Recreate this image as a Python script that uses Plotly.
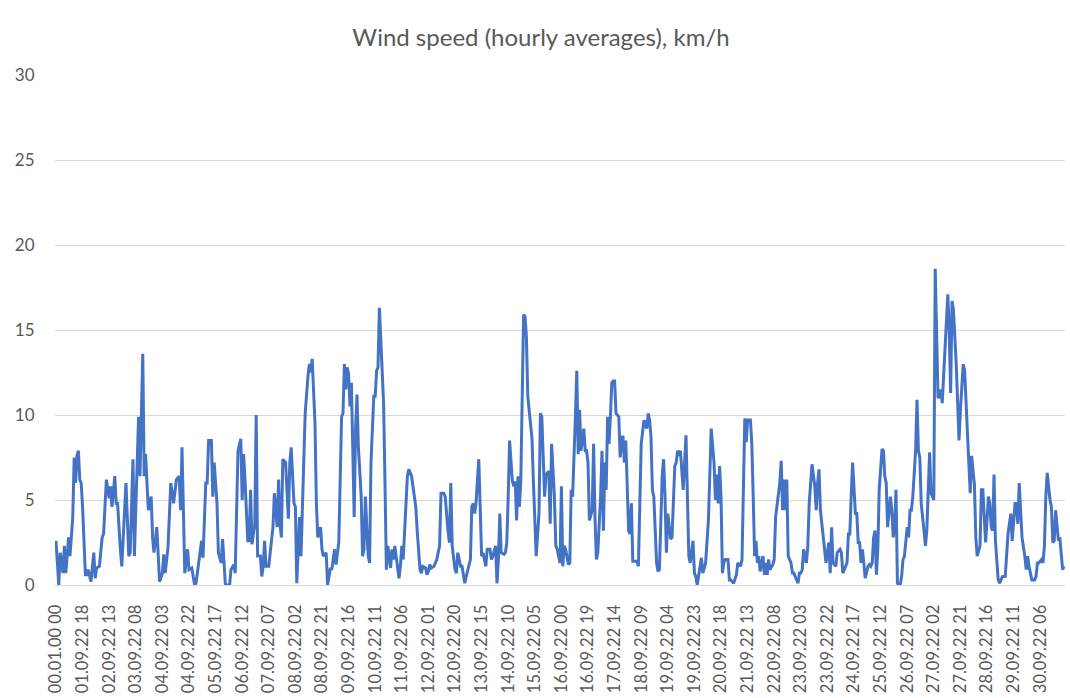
import plotly.graph_objects as go

# hour index (0 = first category) and hourly average wind speed, km/h
h1 = [0,2,3,5,6,7,8,9,10,11,12,13,14,15,16,17,18,19,21,22,23,25,27,28,29,31,33,34,36,38,39,40,42,43,44,46,47,50,52,53,55,56,59]
v1 = [2.6,0.0,1.9,0.7,2.3,0.7,1.7,2.8,1.7,3.0,4.0,7.5,6.0,7.6,7.9,6.2,6.0,4.6,0.6,0.6,0.9,0.2,1.9,0.4,1.0,1.1,2.8,3.0,6.2,5.1,5.8,4.6,6.4,4.8,4.8,2.1,1.1,6.0,1.7,1.9,7.4,1.7,9.9]
h2 = [60,62,63,64,65,66,68,69,70,72,74,76,77,78,80,82,84,86,88,89,90,92,94,95,97,99,100,102,104,105,107,108,109,111,112,113,115,116,118,119,120]
v2 = [6.4,13.6,6.4,7.7,6.0,4.4,5.2,2.8,1.9,3.4,0.2,0.7,1.8,0.7,2.2,6.0,4.8,6.2,6.4,4.4,8.1,0.7,2.1,0.9,1.0,0.0,0.1,1.3,2.6,1.6,6.0,6.0,8.5,8.5,5.2,7.2,4.8,1.9,1.3,2.7,1.5]
h3 = [121,124,125,127,128,130,132,133,134,135,136,137,138,139,140,142,143,144,146,147,148,149,150,152,153,155,156,158,159,160,161,162,164,165,166,167,168,170,171,172,173,174,175,177,178,180,181]
v3 = [0.0,0.0,0.9,1.2,0.7,7.9,8.6,5.0,7.7,6.2,4.0,2.6,2.6,5.6,2.4,3.6,10.0,1.7,1.7,0.5,1.1,2.6,1.1,1.1,1.9,3.4,5.4,3.4,6.2,3.6,2.8,7.4,7.2,5.2,3.9,7.2,8.1,4.8,4.6,0.1,1.9,4.0,1.7,7.9,10.1,12.3,13.0]
h4 = [182,183,185,186,187,189,190,191,193,194,196,197,199,200,202,204,205,206,207,208,209,210,211,212,213,214,215,216,218,219,220,221,222,223,224,225,227,228,229,230,231,233,234,235,236,237,239,240,241,242]
v4 = [12.5,13.3,9.5,4.8,2.8,3.4,2.1,1.7,1.9,0.0,1.0,0.9,2.1,1.2,2.5,9.9,10.1,13.0,11.5,12.8,12.4,10.5,11.9,7.2,4.0,9.2,11.2,8.1,5.2,1.7,2.1,5.2,3.8,1.7,1.3,7.2,11.1,11.1,12.6,12.8,16.3,13.0,10.7,6.0,0.9,2.3,1.0,2.1,1.5,2.3]
h5 = [243,245,246,247,248,249,251,252,254,256,257,258,260,261,262,264,265,266,267,268,270,271,272,274,275,277,278,280,281,282,283,285,286,287,289,290,291,292,293,295,296,297,298,299,300,302,303]
v5 = [1.7,0.4,1.1,2.3,1.5,3.0,6.4,6.8,6.4,5.2,4.6,3.2,0.9,0.7,1.1,1.0,0.6,0.8,1.2,1.0,1.1,1.3,1.5,2.3,5.4,5.4,5.2,3.2,2.5,6.0,2.3,0.9,0.7,1.9,1.1,1.1,0.7,0.1,0.5,1.3,1.5,4.6,4.8,4.2,4.8,7.4,4.8]
h6 = [304,305,307,308,310,311,312,314,315,316,317,318,320,321,322,323,324,326,327,328,329,330,331,332,333,334,335,336,337,340,341,342,343,345,346,347,348,349,350,352,353,354,356,357,358,360,361,362,363]
v6 = [1.7,1.9,1.1,2.1,2.1,1.5,1.7,2.3,0.1,1.5,4.2,1.9,1.8,1.9,2.5,5.2,8.5,6.1,5.8,6.1,3.8,6.4,4.6,6.1,12.1,15.9,15.8,14.6,11.1,8.6,6.1,3.2,1.7,4.2,10.1,9.9,7.2,5.2,6.5,6.7,3.6,8.3,5.2,2.3,2.1,1.3,5.8,1.1,2.3]
h7 = [364,366,367,368,369,371,372,373,374,375,377,378,379,380,381,383,384,385,386,387,389,390,391,392,393,394,395,396,397,398,399,400,402,403,404,405,406,407,408,409,410,411,412,414,415,416,417,418,420,421,422,423,424]
v7 = [2.1,1.2,1.3,5.6,5.2,9.9,12.6,7.7,10.3,7.9,9.2,7.9,7.9,7.2,3.8,4.4,8.3,4.0,1.5,1.9,5.2,7.9,3.2,7.2,5.6,9.9,8.3,9.9,11.9,12.0,12.0,10.1,9.9,7.5,8.7,8.7,7.2,8.5,5.2,3.2,3.0,4.8,1.4,1.4,1.4,1.1,6.0,8.3,9.7,9.4,9.2,10.1,9.7]
h8 = [425,426,427,429,430,431,433,434,435,436,437,439,440,441,442,443,444,445,446,448,449,450,451,452,453,455,456,457,458,459,461,462,463,464,466,467,468,470,471,472,473,474,475,476,477,478,480,481]
v8 = [8.7,5.6,5.2,1.3,0.8,0.9,6.4,7.4,5.2,1.9,4.2,2.7,2.8,5.2,7.0,7.2,7.9,7.6,7.9,5.6,7.0,8.8,5.2,1.7,1.3,2.6,0.7,0.5,0.0,0.5,1.6,0.7,1.1,1.3,3.8,7.2,9.2,7.2,5.0,6.5,4.8,7.0,5.2,0.7,1.3,1.5,1.5,0.3]
h9 = [482,484,486,487,489,490,491,492,493,494,496,497,498,499,500,501,502,503,505,506,507,508,509,510,512,513,514,515,517,518,519,520,521,522,523,525,526,527,528,530,531,532,533,534,536,537,538,539,540,542,543,544,545]
v9 = [0.3,0.1,0.6,1.3,1.1,1.5,6.8,9.8,8.4,9.7,9.7,8.3,5.2,1.7,2.6,1.3,1.7,0.8,1.7,0.6,1.3,0.6,1.5,0.9,1.2,1.5,4.0,4.8,6.0,7.3,4.4,6.2,4.4,6.2,1.7,1.3,0.7,0.7,0.5,0.1,0.7,0.7,0.9,2.1,1.3,2.3,4.8,6.2,7.1,5.8,4.4,6.0,6.8]
h10 = [546,547,548,549,550,552,553,554,555,557,558,560,561,562,564,565,566,567,568,569,571,572,573,574,575,576,577,578,580,581,582,583,584,585,586,587,588,590,591,592,593,594,596,597,598,599,600,601,603]
v10 = [4.4,3.6,2.6,1.7,1.3,2.5,0.7,3.4,1.3,1.1,1.9,2.1,1.9,0.7,1.1,1.3,3.0,3.0,5.2,7.2,4.2,4.2,2.5,2.5,1.3,2.1,1.3,0.4,1.1,1.2,1.1,1.3,2.8,3.2,0.6,2.1,5.6,8.0,7.9,6.4,6.0,3.4,5.2,4.4,2.8,3.4,5.6,0.1,0.0]
h11 = [604,605,606,608,609,610,611,612,614,615,616,617,618,620,621,622,623,624,625,627,628,629,630,631,632,633,635,636,637,638,639,640,641,643,644,645,646,648,649,650,652,653,654,655,656,657,658,660,661,662,664,665,666,667]
v11 = [0.5,1.5,1.7,3.4,2.8,4.4,4.4,5.2,7.9,10.9,7.9,7.5,4.8,3.2,2.3,3.2,5.2,7.8,5.4,5.0,18.6,14.0,11.0,11.1,11.5,10.7,13.6,15.5,17.1,15.0,11.3,16.7,16.2,13.0,10.1,8.5,10.3,13.0,12.6,10.7,6.8,5.4,7.6,6.8,5.9,2.8,1.7,2.3,5.6,5.6,2.5,3.8,5.2,4.8]
h12 = [668,669,670,671,673,674,676,677,678,680,681,682,683,685,686,687,688,689,690,692,693,694,695,697,698,699,700,701,702,704,705,706,707,708,710,711,712,713,714,716,717,718,719,720]
v12 = [3.4,3.2,6.5,2.6,0.3,0.1,0.5,0.5,0.5,3.0,3.6,4.2,2.6,4.8,4.8,3.6,6.0,4.0,2.8,1.7,0.9,1.7,1.1,0.3,0.3,0.3,0.5,1.3,1.3,1.5,1.3,2.3,5.2,6.6,5.0,4.6,2.5,2.6,4.4,2.6,2.8,2.0,0.9,1.1]

tick_labels = ["00.01.00 00","01.09.22 18","02.09.22 13","03.09.22 08","04.09.22 03","04.09.22 22",
               "05.09.22 17","06.09.22 12","07.09.22 07","08.09.22 02","08.09.22 21","09.09.22 16",
               "10.09.22 11","11.09.22 06","12.09.22 01","12.09.22 20","13.09.22 15","14.09.22 10",
               "15.09.22 05","16.09.22 00","16.09.22 19","17.09.22 14","18.09.22 09","19.09.22 04",
               "19.09.22 23","20.09.22 18","21.09.22 13","22.09.22 08","23.09.22 03","23.09.22 22",
               "24.09.22 17","25.09.22 12","26.09.22 07","27.09.22 02","27.09.22 21","28.09.22 16",
               "29.09.22 11","30.09.22 06"]
label_step = 19  # one category label every 19 hours
n_hours = 721

hours, speeds = [], []
for h, v in [(h1, v1), (h2, v2), (h3, v3), (h4, v4), (h5, v5), (h6, v6),
             (h7, v7), (h8, v8), (h9, v9), (h10, v10), (h11, v11), (h12, v12)]:
    assert len(h) == len(v), (h[0], len(h), len(v))
    hours += h
    speeds += v

tick_vals = [i * label_step for i in range(len(tick_labels))]

FONT = "Lato, 'Open Sans', sans-serif"
GREY = "#595959"

fig = go.Figure(go.Scatter(
    x=hours, y=speeds, mode="lines",
    line=dict(color="#4472C4", width=3, shape="linear"),
    hoverinfo="skip", showlegend=False,
))

fig.update_layout(
    width=1070, height=698,
    paper_bgcolor="white", plot_bgcolor="white",
    margin=dict(l=55, r=5, t=75, b=113),
    title=dict(text="Wind speed (hourly averages), km/h",
               x=541 / 1070, xref="container", xanchor="center",
               y=1 - 38 / 698, yref="container", yanchor="middle",
               font=dict(family=FONT, size=24, color=GREY)),
    font=dict(family=FONT, color=GREY),
)
fig.update_xaxes(
    range=[-0.7, n_hours - 1 + 0.7],
    tickmode="array", tickvals=tick_vals, ticktext=tick_labels,
    tickangle=-90, tickfont=dict(size=16.5, color=GREY),
    showgrid=False, zeroline=False, showline=False, automargin=False,
    ticks="outside", ticklen=12, tickcolor="rgba(0,0,0,0)",
)
fig.update_yaxes(
    range=[0, 30], dtick=5, tickfont=dict(size=17, color=GREY),
    showgrid=True, gridcolor="#D9D9D9", gridwidth=1,
    zeroline=True, zerolinecolor="#D9D9D9", zerolinewidth=1,
    showline=False, automargin=False,
    ticks="outside", ticklen=16, tickcolor="rgba(0,0,0,0)",
)

fig.write_html("out.html",
               config={"displayModeBar": False, "staticPlot": True},
               post_script="document.body.style.margin='0';document.body.style.overflow='hidden';")
